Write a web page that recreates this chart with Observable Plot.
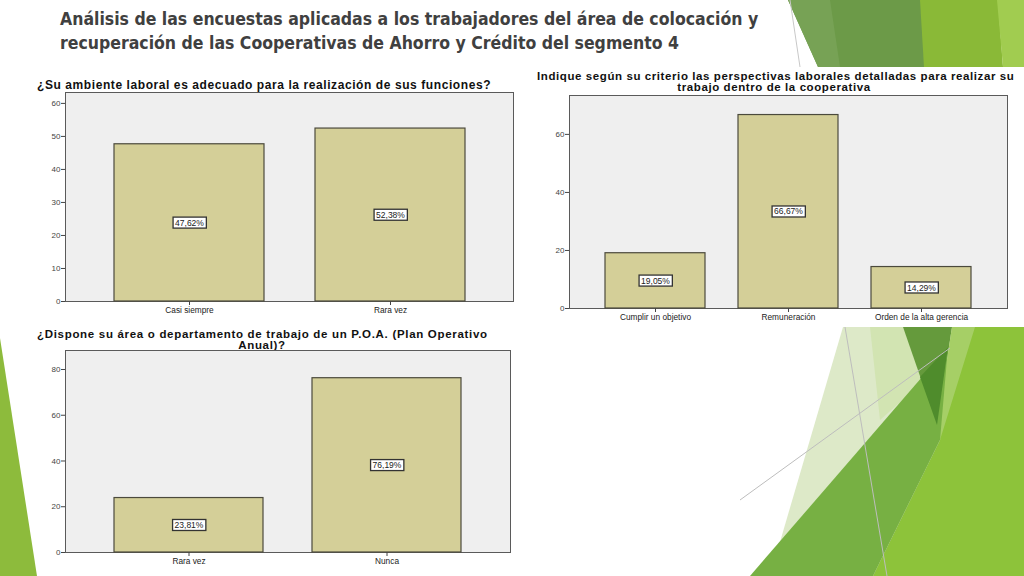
<!DOCTYPE html>
<html><head><meta charset="utf-8">
<script src="https://cdn.jsdelivr.net/npm/d3@7"></script>
<script src="https://cdn.jsdelivr.net/npm/@observablehq/plot@0.6"></script>
<style>
body{margin:0;width:1024px;height:576px;overflow:hidden;background:#fff;position:relative;font-family:"Liberation Sans",Arial,sans-serif}
#deco{position:absolute;left:0;top:0}
.title{position:absolute;left:60px;top:7px;font-family:"DejaVu Sans Condensed";font-weight:bold;font-size:17.5px;line-height:24px;color:#404040;white-space:nowrap}
.ct{position:absolute;font-weight:bold;font-size:12px;color:#111;text-align:center;line-height:11px;white-space:nowrap}
.cs{font-size:11.5px;line-height:11px}
.chart{position:absolute}
</style></head><body>
<svg id="deco" width="1024" height="576">
  <polygon points="0,338 37,576 0,576" fill="#8dbb3c"/>
  <polygon points="788,0 922,0 925,67 818,67" fill="#6c9a48"/>
  <polygon points="788,0 830,0 840,67 818,67" fill="#77a255"/>
  <polygon points="920,0 998,0 1003,67 924,67" fill="#8ab937"/>
  <polygon points="997,0 1024,0 1024,67 1003,67" fill="#a1cc50"/>
  <line x1="790" y1="0" x2="800" y2="67" stroke="#c8c8c8"/>
  <polygon points="843,327 960,327 960,576 770,576" fill="#dde9c8"/>
  <polygon points="870,327 903,327 925,380 880,420" fill="#d2e4b2"/>
  <polygon points="903,327 952,327 937,425" fill="#659a3c"/>
  <polygon points="952,327 975,327 985,385 940,440 937,425" fill="#a6cf66"/>
  <polygon points="975,327 1024,327 1024,576 873,576 940,440" fill="#8dc33a"/>
  <polygon points="750,576 948,347 940,440 873,576" fill="#77b043"/>
  <polygon points="920,377 948,347 937,425" fill="#4f8c2c"/>
  <line x1="740" y1="500" x2="950" y2="348" stroke="#bdbdbd"/>
  <line x1="845" y1="327" x2="887" y2="576" stroke="#bdbdbd"/>
</svg>
<div class="title">Análisis de las encuestas aplicadas a los trabajadores del área de colocación y<br>recuperación de las Cooperativas de Ahorro y Crédito del segmento 4</div>
<div class="ct" style="left:37px;top:80px;letter-spacing:0.58px">¿Su ambiente laboral es adecuado para la realización de sus funciones?</div>
<div class="ct cs" style="left:537px;top:71px;width:474px;letter-spacing:0.59px">Indique según su criterio las perspectivas laborales detalladas para realizar su</div>
<div class="ct cs" style="left:537px;top:82px;width:474px;letter-spacing:0.59px">trabajo dentro de la cooperativa</div>
<div class="ct cs" style="left:37px;top:329px;width:450px;letter-spacing:0.69px">¿Dispone su área o departamento de trabajo de un P.O.A. (Plan Operativo</div>
<div class="ct cs" style="left:37px;top:340px;width:450px;letter-spacing:0.69px">Anual)?</div>
<div id="c1" class="chart" style="left:35px;top:88px"></div>
<div id="c2" class="chart" style="left:540px;top:92px"></div>
<div id="c3" class="chart" style="left:35px;top:346px"></div>
<script>
const q1Categories = ["Casi siempre", "Rara vez"];
const q1Values = [47.62, 52.38];
const q1Ticks = [0, 10, 20, 30, 40, 50, 60];

const q2Categories = ["Cumplir un objetivo", "Remuneración", "Orden de la alta gerencia"];
const q2Values = [19.05, 66.67, 14.29];
const q2Ticks = [0, 20, 40, 60];

const q3Categories = ["Rara vez", "Nunca"];
const q3Values = [23.81, 76.19];
const q3Ticks = [0, 20, 40, 60, 80];

function fmt(v){ return v.toFixed(2).replace(".", ",") + "%"; }

function makeChart(el, cats, vals, ticks, o){
  const data = cats.map((c,i)=>({cat:c, v:vals[i], label:fmt(vals[i])}));
  const svg = Plot.plot({
    width:o.width, height:o.height,
    marginLeft:o.ml, marginRight:o.mr, marginTop:o.mt, marginBottom:o.mb,
    style:{fontFamily:"Liberation Sans, Arial, sans-serif", fontSize:"8px", color:"#333", background:"transparent", overflow:"visible"},
    x:{domain:cats, paddingInner:o.pi, paddingOuter:o.po, label:null},
    y:{domain:[0,o.ymax], label:null},
    marks:[
      Plot.frame({fill:"#efefef", stroke:"#5a5a5a"}),
      Plot.barY(data,{x:"cat", y:"v", fill:"#d4cf98", stroke:"#4b4a3c", strokeWidth:1.2}),
      Plot.axisY({ticks:ticks, tickSize:4, tickPadding:1, fill:"#444", stroke:"#444", fontSize:8}),
      Plot.axisX({tickSize:4, tickPadding:2, fill:"#222", stroke:"#444", fontSize:8.3}),
      Plot.text(data,{x:"cat", y:d=>d.v/2, text:"label", fill:"#222", fontSize:8.5})
    ]
  });
  document.getElementById(el).appendChild(svg);
  svg.querySelectorAll('g[aria-label="text"] text').forEach(t=>{
    const b = t.getBBox();
    const r = document.createElementNS("http://www.w3.org/2000/svg","rect");
    r.setAttribute("x", b.x-2); r.setAttribute("y", b.y-0.5);
    r.setAttribute("width", b.width+4); r.setAttribute("height", b.height+1);
    r.setAttribute("fill","#fff"); r.setAttribute("stroke","#333"); r.setAttribute("stroke-width","1.3");
    if (t.getAttribute("transform")) r.setAttribute("transform", t.getAttribute("transform"));
    t.parentNode.insertBefore(r, t);
  });
}

makeChart("c1", q1Categories, q1Values, q1Ticks, {width:485, height:230, ml:30, mr:7, mt:4, mb:17, ymax:63.3, pi:0.254, po:0.24});
makeChart("c2", q2Categories, q2Values, q2Ticks, {width:475, height:235, ml:29, mr:8, mt:3, mb:19, ymax:73.4, pi:0.25, po:0.26});
makeChart("c3", q3Categories, q3Values, q3Ticks, {width:480, height:225, ml:30, mr:5, mt:4, mb:19, ymax:88.3, pi:0.246, po:0.246});
</script>
</body></html>
